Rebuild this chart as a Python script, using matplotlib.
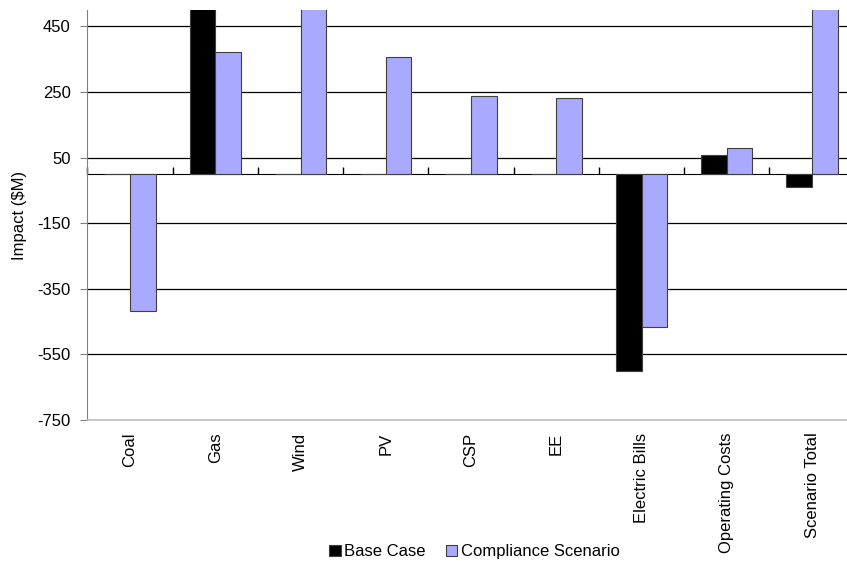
import matplotlib
matplotlib.use("Agg")
import matplotlib.pyplot as plt
import numpy as np

plt.rcParams['font.family'] = ['Liberation Sans', 'DejaVu Sans']
plt.rcParams['axes.unicode_minus'] = False

categories = ['Coal', 'Gas', 'Wind', 'PV', 'CSP', 'EE', 'Electric Bills',
              'Operating Costs', 'Scenario Total']
base_case = [0, 560, 0, 0, 0, 0, -602, 59, -40]
compliance = [-417, 371, 650, 356, 237, 233, -466, 78, 700]
y_ticks = [-750, -550, -350, -150, 50, 250, 450]

fig = plt.figure(figsize=(8.47, 5.62), dpi=100)
ax = fig.add_axes([0.1032, 0.2527, 0.9058, 0.7295])

x = np.arange(len(categories))
w = 0.3
ax.bar(x - w / 2, base_case, w, color='black', edgecolor='#404040', linewidth=0.8,
       label='Base Case', zorder=3)
ax.bar(x + w / 2, compliance, w, color='#a9a9ff', edgecolor='#404040', linewidth=0.8,
       label='Compliance Scenario', zorder=3)

ax.set_xlim(-0.5, len(categories) - 0.5)
ax.set_ylim(-750, 500)
ax.set_yticks(y_ticks)
ax.tick_params(axis='y', labelsize=12, length=5, color='#808080', pad=7)
ax.yaxis.grid(True, color='black', linewidth=0.9, zorder=0)
ax.set_axisbelow(True)

# category labels along the bottom
ax.set_xticks(x)
ax.set_xticklabels(categories, rotation=90, fontsize=12)
ax.tick_params(axis='x', length=0, pad=9)

for side in ['top', 'right']:
    ax.spines[side].set_visible(False)
ax.spines['left'].set_color('#808080')
ax.spines['bottom'].set_color('#c0c0c0')
ax.spines['bottom'].set_linewidth(1.2)

# zero line with tick marks between categories
zero_frac = (0 - (-750)) / (500 - (-750))
sec = ax.secondary_xaxis(zero_frac)
sec.set_xticks(np.arange(len(categories) + 1) - 0.5)
sec.set_xticklabels([])
sec.tick_params(axis='x', direction='out', length=5, color='black', width=1)
sec.spines['bottom'].set_color('black')
sec.spines['bottom'].set_linewidth(1.0)
sec.spines['bottom'].set_zorder(4)

ax.set_ylabel('Impact ($M)', fontsize=12)
ax.yaxis.set_label_coords(-0.079, 0.5)

fig.legend(loc='center', bbox_to_anchor=(0.56, 0.018), ncol=2, frameon=False,
           fontsize=12, handlelength=0.7, handleheight=0.7, handletextpad=0.2,
           columnspacing=1.2, borderaxespad=0)

fig.savefig('out.png', dpi=100)
